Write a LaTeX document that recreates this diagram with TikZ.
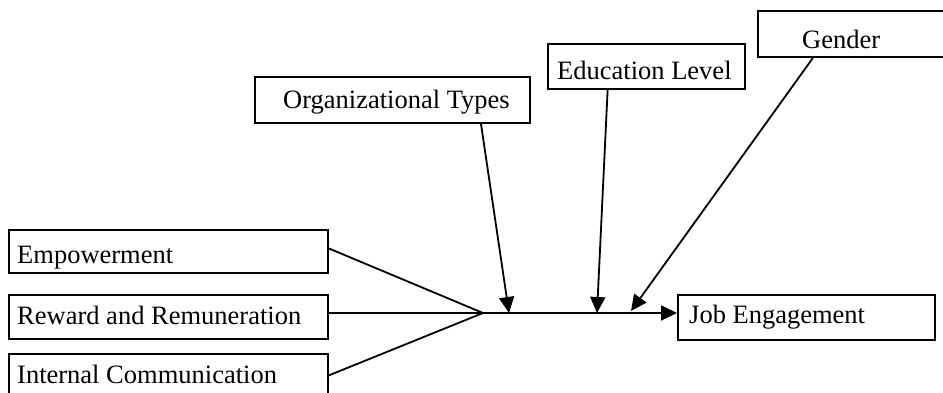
\documentclass[tikz,border=0pt]{standalone}
\usepackage{fontspec}
\setmainfont{Liberation Serif}
\usetikzlibrary{arrows.meta,calc}
\begin{document}
\begin{tikzpicture}[x=1pt,y=-1pt,
  box/.style={draw=black,line width=1.8pt,rectangle,inner sep=0pt,anchor=north west},
  lbl/.style={inner sep=0pt,anchor=base west,font=\fontsize{26.5}{30}\selectfont},
  conn/.style={line width=1.8pt},
  arr/.style={line width=1.8pt,-{Triangle[length=16pt,width=15pt]}}]
\useasboundingbox (0,0) rectangle (943,392);
\clip (0,0) rectangle (943,392);
% left boxes
\node[box,minimum width=319pt,minimum height=43pt] (emp) at (8,229) {};
\node[lbl] (empt) at (17,263) {Empowerment};
\node[box,minimum width=319pt,minimum height=44pt] (rew) at (8,294) {};
\node[lbl] (rewt) at (17,324) {Reward and Remuneration};
\node[box,minimum width=319pt,minimum height=43pt] (int) at (8,353) {};
\node[lbl] (intt) at (17,383) {Internal Communication};
% right box
\node[box,minimum width=257pt,minimum height=45pt] (job) at (677,294) {};
\node[lbl] (jobt) at (689,323) {Job Engagement};
% top boxes
\node[box,minimum width=275pt,minimum height=46pt] (org) at (254,76) {};
\node[lbl] (orgt) at (283,108) {Organizational Types};
\node[box,minimum width=197pt,minimum height=45pt] (edu) at (547,43) {};
\node[lbl] (edut) at (557,79) {Education Level};
\node[box,minimum width=230pt,minimum height=46pt] (gen) at (757,10) {};
\node[lbl] (gent) at (802,48) {Gender};
% junction and targets
\coordinate (J) at (483,313);
\coordinate (T1) at (509,313);
\coordinate (T2) at (597,313);
\coordinate (T3) at (631,311);
\draw[conn] ([yshift=3pt]emp.east) -- (J);
\draw[conn] (rew.east |- J) -- (J);
\draw[conn] (int.east) -- (J);
\draw[arr] (J) -- (job.west |- J);
\draw[arr] ($(org.south west)!0.82!(org.south east)$) -- (T1);
\draw[arr] ($(edu.south west)!0.305!(edu.south east)$) -- (T2);
\draw[arr] ($(gen.south west)+(56,0)$) -- (T3);
\end{tikzpicture}
\end{document}
